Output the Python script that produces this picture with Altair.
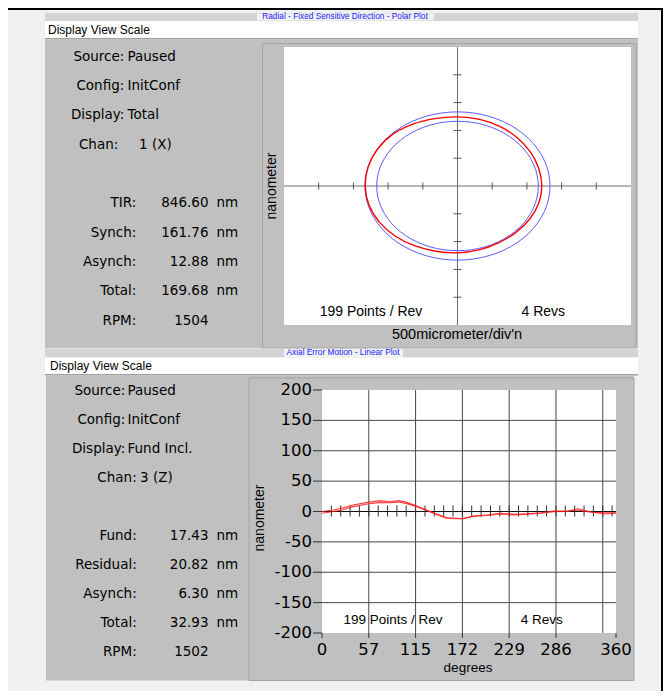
import altair as alt
import pandas as pd

# ---------------- data ----------------
top_title = "Radial - Fixed Sensitive Direction - Polar Plot"
bot_title = "Axial Error Motion - Linear Plot"
menu_text = "Display View Scale"

top_labels = ["Source:", "Config:", "Display:", "Chan:", "TIR:", "Synch:", "Asynch:", "Total:", "RPM:"]
top_values = ["Paused", "InitConf", "Total", "1 (X)", "846.60", "161.76", "12.88", "169.68", "1504"]
top_units = ["", "", "", "", "nm", "nm", "nm", "nm", ""]

bot_labels = ["Source:", "Config:", "Display:", "Chan:", "Fund:", "Residual:", "Asynch:", "Total:", "RPM:"]
bot_values = ["Paused", "InitConf", "Fund Incl.", "3 (Z)", "17.43", "20.82", "6.30", "32.93", "1502"]
bot_units = ["", "", "", "", "nm", "nm", "nm", "nm", ""]

# polar plot (nm)
polar_ref_radii = [1333, 1164]
polar_angles = [0, 15, 30, 45, 60, 75, 90, 105, 120, 135, 150, 165,
                180, 195, 210, 225, 240, 255, 270, 285, 300, 315, 330, 345]
polar_radii = [1215, 1212, 1215, 1222, 1232, 1240, 1243, 1255, 1285, 1318, 1330, 1333,
               1330, 1320, 1300, 1272, 1240, 1215, 1202, 1190, 1180, 1185, 1198, 1210]
polar_ticks = [-2000, -1500, -1000, -500, 500, 1000, 1500, 2000]
polar_xlabel = "500micrometer/div'n"
polar_ylabel = "nanometer"

# linear plot
lin_deg = [0, 14, 26, 38, 54, 71, 83, 94, 104, 116, 128, 141, 153, 165, 172, 185,
           201, 219, 235, 251, 268, 284, 301, 313, 329, 345, 360]
lin_rev1 = [0, 2.5, 6, 10.7, 14.6, 17.9, 16, 17.9, 15, 9, 2.5, -4.7, -10, -11, -12.4, -7.4,
            -5.8, -3, -4.7, -3.6, -2, 0.8, 1, 2.5, -1.3, -2, -2]
lin_rev2 = [-3, 0, 3, 8, 12, 15, 14.5, 15.5, 13, 8, 1.5, -5.5, -11.5, -12, -11.5, -8,
            -6.5, -4, -5.5, -4.5, -3, -0.5, 0, 4.5, -0.5, -4, -3]
lin_y_ticks = [200, 150, 100, 50, 0, -50, -100, -150, -200]
lin_y_grid = [150, 100, 50, -50, -100, -150]
lin_x_ticks = [0, 57.3, 114.6, 171.9, 229.2, 286.5, 360]
lin_x_labels = ["0", "57", "115", "172", "229", "286", "360"]
lin_x_grid = [57.3, 114.6, 171.9, 229.2, 286.5, 343.8]
lin_minor = [11.5, 22.9, 34.4, 45.8, 57.3, 68.8, 80.2, 91.7, 103.1, 114.6, 126.1, 137.5,
             149.0, 160.4, 171.9, 183.3, 194.8, 206.3, 217.7, 229.2, 240.6, 252.1, 263.6,
             275.0, 286.5, 297.9, 309.4, 320.9, 332.3, 343.8, 355.2]
lin_xlabel = "degrees"
lin_ylabel = "nanometer"
points_text = "199 Points / Rev"
revs_text = "4 Revs"

# ---------------- layout helpers ----------------
UI = "Liberation Sans"
FORM = "DejaVu Sans"
NUM = "DejaVu Sans"
ONE = pd.DataFrame({"k": [0]})
O = 8  # page margin


def rect(x1, x2, y1, y2, fill, stroke=None, sw=1.0):
    kw = dict(fill=fill)
    if stroke:
        kw.update(stroke=stroke, strokeWidth=sw)
    else:
        kw.update(strokeWidth=0)
    return alt.Chart(ONE).mark_rect(**kw).encode(
        x=alt.value(x1 - O), x2=alt.value(x2 - O),
        y=alt.value(y1 - O), y2=alt.value(y2 - O))


def label(txt, x, y, size=14, align="center", angle=0, color="#000000", font=UI):
    return alt.Chart(pd.DataFrame({"t": [txt]})).mark_text(
        align=align, baseline="middle", fontSize=size, font=font, color=color, angle=angle
    ).encode(x=alt.value(x - O), y=alt.value(y - O), text="t:N")


def info(labels, values, units, y0, y1, head, chan, stat):
    keys = labels[:4] + ["gap"] + labels[4:]
    df = pd.DataFrame({"key": labels, "value": values, "unit": units,
                       "grp": ["head"] * 3 + ["chan"] + ["stat"] * 5})
    ysc = alt.Scale(type="point", domain=keys, range=[y0 - O, y1 - O], padding=0)
    Y = alt.Y("key:N", scale=ysc, axis=None)
    out = []

    def txt(grp, field, x, align):
        return alt.Chart(df).transform_filter(alt.datum.grp == grp).mark_text(
            align=align, baseline="middle", fontSize=13.5, font=FORM, color="#000000"
        ).encode(x=alt.value(x - O), y=Y, text=f"{field}:N")

    out.append(txt("head", "key", head[0], "right"))
    out.append(txt("head", "value", head[1], "left"))
    out.append(txt("chan", "key", chan[0], "right"))
    out.append(txt("chan", "value", chan[1], "left"))
    out.append(txt("stat", "key", stat[0], "right"))
    out.append(txt("stat", "value", stat[1], "right"))
    out.append(txt("stat", "unit", stat[2], "left"))
    return out


# scales (pixel ranges inside the 655x683 canvas)
PX = alt.Scale(domain=[-2500, 2500], range=[284 - O, 631 - O], nice=False, zero=False)
PY = alt.Scale(domain=[-2500, 2500], range=[325 - O, 47 - O], nice=False, zero=False)
LX = alt.Scale(domain=[0, 360], range=[322 - O, 616 - O], nice=False, zero=False)
LY = alt.Scale(domain=[-200, 200], range=[633 - O, 390 - O], nice=False, zero=False)

layers = []

# ---------------- chrome ----------------
layers += [
    rect(8, 663, 8, 10, "#000000"),
    rect(661, 663, 8, 691, "#000000"),
    # top window
    rect(45, 638, 13, 21, "#d4d4d4"),
    rect(257, 434, 13.5, 20.5, "#f2f2f2"),
    rect(45, 638, 21, 38, "#ffffff"),
    rect(45, 638, 38, 39.5, "#a0a0a0"),
    rect(45, 638, 39.5, 348, "#c0c0c0"),
    rect(262.5, 636, 43.5, 348, "#c0c0c0", "#a4a4a4", 1),
    rect(284, 631, 47, 325, "#ffffff"),
    # bottom window
    rect(45, 638, 348.5, 357.5, "#d4d4d4"),
    rect(284, 403, 349, 357, "#f2f2f2"),
    rect(45, 638, 357.5, 374, "#ffffff"),
    rect(45, 638, 374, 375.5, "#a0a0a0"),
    rect(46, 634, 375.5, 680.5, "#c0c0c0"),
    rect(249, 634, 378, 680.5, "#c0c0c0", "#a4a4a4", 1),
    rect(322, 616, 390, 633, "#ffffff"),
]

layers += [
    label(top_title, 345, 17.3, size=8.3, color="#1a1aff"),
    label(menu_text, 48, 30, size=12, align="left"),
    label(bot_title, 343, 353, size=8.3, color="#1a1aff"),
    label(menu_text, 50, 365.7, size=12, align="left"),
]

# ---------------- info panels ----------------
layers += info(top_labels, top_values, top_units, 56.7, 320.5,
               head=(124.3, 127.5), chan=(118.3, 139), stat=(136.3, 208.5, 216.5))
layers += info(bot_labels, bot_values, bot_units, 391, 652,
               head=(125.3, 127.5), chan=(136.7, 140), stat=(136.7, 208.5, 216.5))

# ---------------- polar plot ----------------
ptick_df = pd.DataFrame({"v": polar_ticks})
layers += [
    alt.Chart(ONE).mark_rule(color="#6e6e6e", strokeWidth=1).encode(
        x=alt.XDatum(-2500, scale=PX, axis=None), x2=alt.X2Datum(2500),
        y=alt.YDatum(0, scale=PY, axis=None)),
    alt.Chart(ONE).mark_rule(color="#6e6e6e", strokeWidth=1).encode(
        x=alt.XDatum(0, scale=PX, axis=None),
        y=alt.YDatum(-2500, scale=PY, axis=None), y2=alt.Y2Datum(2500)),
    alt.Chart(ptick_df).mark_rule(color="#555555", yOffset=-3.5, y2Offset=3.5).encode(
        x=alt.X("v:Q", scale=PX, axis=None),
        y=alt.YDatum(0, scale=PY, axis=None), y2=alt.Y2Datum(0)),
    alt.Chart(ptick_df).mark_rule(color="#555555", xOffset=-4, x2Offset=4).encode(
        y=alt.Y("v:Q", scale=PY, axis=None),
        x=alt.XDatum(0, scale=PX, axis=None), x2=alt.X2Datum(0)),
]

circles = alt.Chart(pd.DataFrame({"r": polar_ref_radii})).transform_calculate(
    a="sequence(0, 360, 5)"
).transform_flatten(["a"]).transform_calculate(
    px="datum.r * cos(datum.a * PI / 180)", py="datum.r * sin(datum.a * PI / 180)"
).mark_line(color="#5b5bff", strokeWidth=1, interpolate="cardinal-closed").encode(
    x=alt.X("px:Q", scale=PX, axis=None), y=alt.Y("py:Q", scale=PY, axis=None),
    detail="r:N", order="a:Q")

red_polar = alt.Chart(pd.DataFrame({"angle": polar_angles, "r": polar_radii})).transform_calculate(
    px="datum.r * cos(datum.angle * PI / 180)", py="datum.r * sin(datum.angle * PI / 180)"
).mark_line(color="#ff0000", strokeWidth=1.4, interpolate="cardinal-closed").encode(
    x=alt.X("px:Q", scale=PX, axis=None), y=alt.Y("py:Q", scale=PY, axis=None),
    order="angle:Q")

layers += [circles, red_polar]
layers += [
    label(polar_ylabel, 272, 186, size=14, angle=270),
    label(polar_xlabel, 457, 335, size=14.5),
    label(points_text, 371, 311.7, size=14),
    label(revs_text, 543.3, 311.7, size=14),
]

# ---------------- linear plot ----------------
layers += [
    alt.Chart(pd.DataFrame({"g": lin_x_grid})).mark_rule(color="#474747", strokeWidth=1).encode(
        x=alt.X("g:Q", scale=LX, axis=None),
        y=alt.YDatum(-200, scale=LY, axis=None), y2=alt.Y2Datum(200)),
    alt.Chart(pd.DataFrame({"g": lin_y_grid})).mark_rule(color="#474747", strokeWidth=1).encode(
        y=alt.Y("g:Q", scale=LY, axis=None),
        x=alt.XDatum(0, scale=LX, axis=None), x2=alt.X2Datum(360)),
    alt.Chart(ONE).mark_rule(color="#111111", strokeWidth=1).encode(
        y=alt.YDatum(0, scale=LY, axis=None),
        x=alt.XDatum(0, scale=LX, axis=None), x2=alt.X2Datum(360)),
    alt.Chart(pd.DataFrame({"m": lin_minor})).mark_rule(color="#333333", yOffset=-6, y2Offset=5).encode(
        x=alt.X("m:Q", scale=LX, axis=None),
        y=alt.YDatum(0, scale=LY, axis=None), y2=alt.Y2Datum(0)),
    alt.Chart(pd.DataFrame({"v": lin_y_ticks})).mark_rule(color="#333333", xOffset=-9, x2Offset=0).encode(
        y=alt.Y("v:Q", scale=LY, axis=None),
        x=alt.XDatum(0, scale=LX, axis=None), x2=alt.X2Datum(0)),
    alt.Chart(pd.DataFrame({"v": lin_x_ticks})).mark_rule(color="#333333", yOffset=0, y2Offset=5).encode(
        x=alt.X("v:Q", scale=LX, axis=None),
        y=alt.YDatum(-200, scale=LY, axis=None), y2=alt.Y2Datum(-200)),
    alt.Chart(pd.DataFrame({"v": lin_y_ticks, "t": [str(v) for v in lin_y_ticks]})).mark_text(
        align="right", baseline="middle", fontSize=16.5, font=NUM, color="#000000", dx=-10).encode(
        y=alt.Y("v:Q", scale=LY, axis=None),
        x=alt.XDatum(0, scale=LX, axis=None), text="t:N"),
    alt.Chart(pd.DataFrame({"v": lin_x_ticks, "t": lin_x_labels})).mark_text(
        align="center", baseline="middle", fontSize=16.5, font=NUM, color="#000000", dy=17).encode(
        x=alt.X("v:Q", scale=LX, axis=None),
        y=alt.YDatum(-200, scale=LY, axis=None), text="t:N"),
]

lin_df = pd.DataFrame({
    "deg": lin_deg + lin_deg,
    "nm": lin_rev1 + lin_rev2,
    "rev": ["1"] * len(lin_deg) + ["2"] * len(lin_deg),
})
layers.append(
    alt.Chart(lin_df).mark_line(color="#ff1a1a", strokeWidth=1.1, opacity=0.85).encode(
        x=alt.X("deg:Q", scale=LX, axis=None), y=alt.Y("nm:Q", scale=LY, axis=None),
        detail="rev:N", order="deg:Q"))

layers += [
    label(lin_ylabel, 260, 518, size=14, angle=270),
    label(lin_xlabel, 468, 668, size=13.5),
    label(points_text, 393, 620, size=13.5),
    label(revs_text, 541.7, 620, size=13.5),
]

chart = alt.layer(*layers).resolve_scale(
    x="independent", y="independent"
).properties(
    width=655, height=683, background="#f0f0f0", padding=0,
    autosize=alt.AutoSizeParams(type="none"),
).configure_view(stroke=None)

chart.save("out.html", embed_options={"renderer": "svg", "actions": False})
